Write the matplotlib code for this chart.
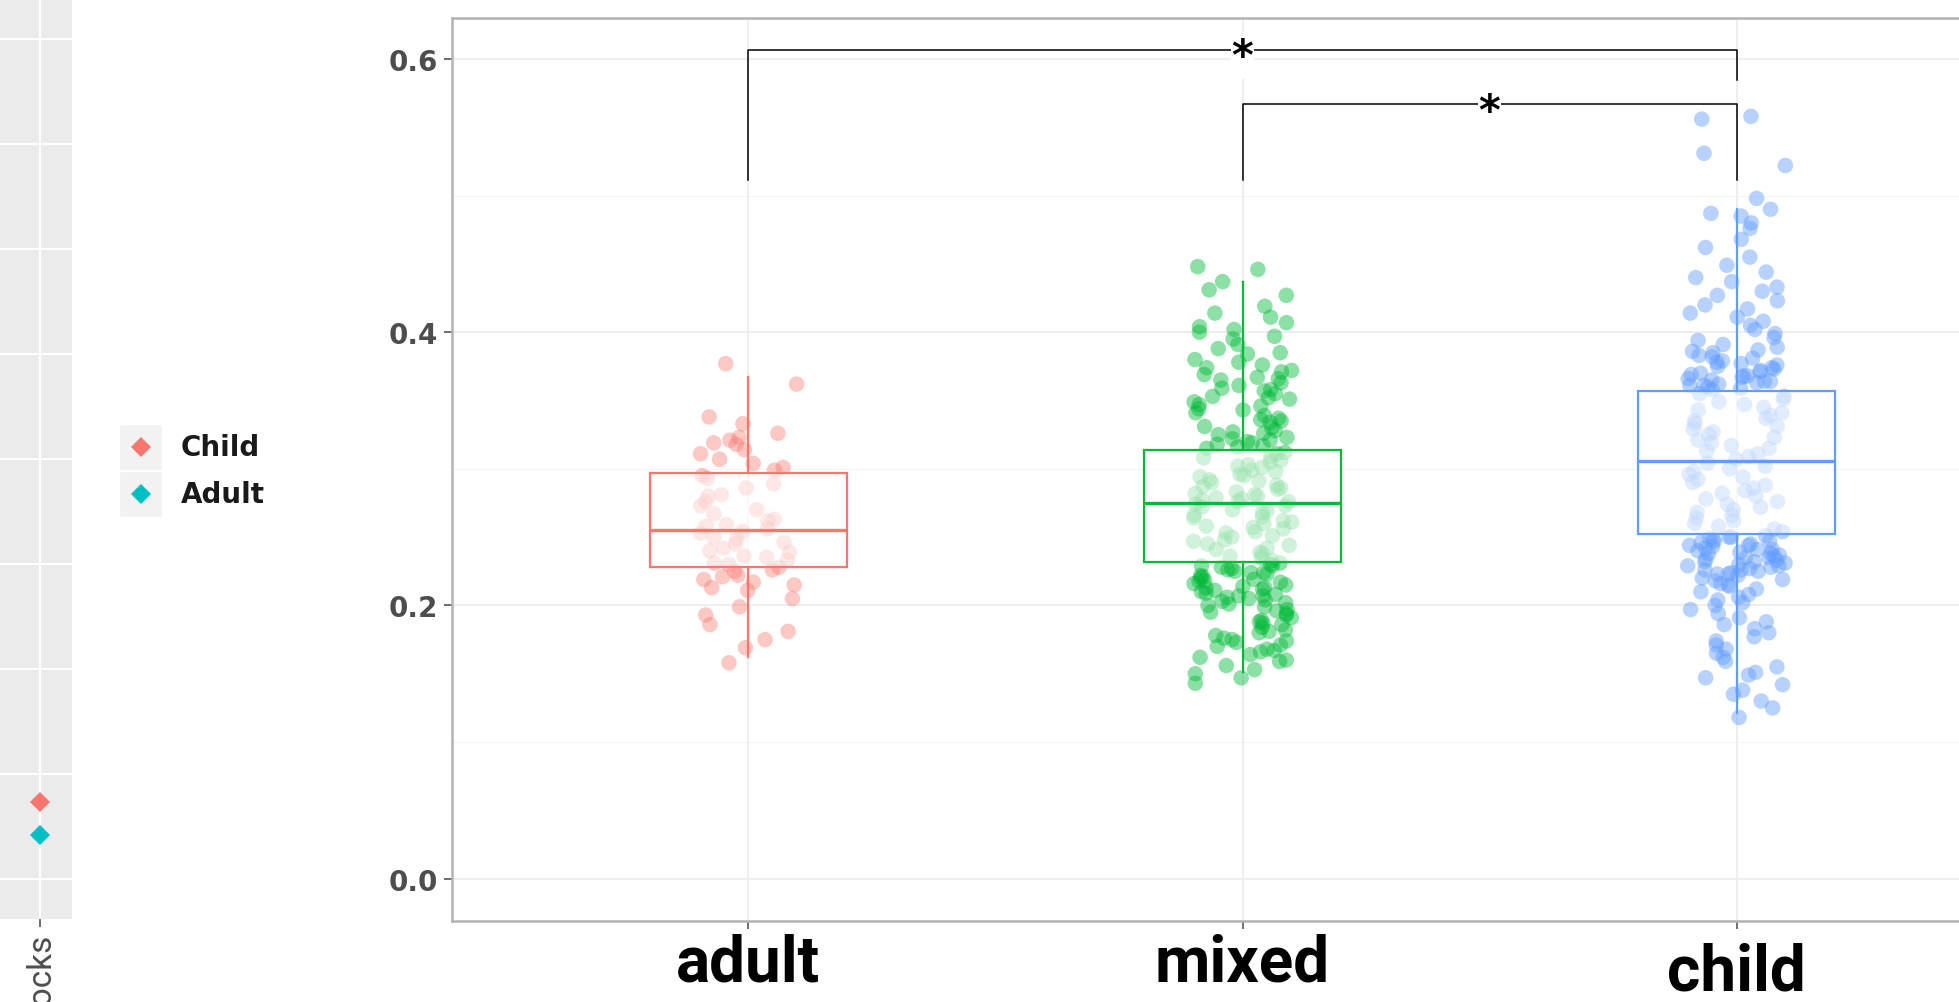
import matplotlib
matplotlib.use("Agg")
import matplotlib.pyplot as plt
import numpy as np
from matplotlib.patches import Rectangle
from matplotlib.transforms import ScaledTranslation

# groups on the main panel
groups = ['adult', 'mixed', 'child']
colors = ['#F8766D', '#00BA38', '#619CFF']

# box statistics
box_q1 = [0.228, 0.232, 0.252]
box_med = [0.255, 0.275, 0.306]
box_q3 = [0.297, 0.314, 0.357]
whisk_lo = [0.162, 0.151, 0.121]
whisk_hi = [0.367, 0.437, 0.490]

# jittered observations (thousandths)
adult_vals = [377, 362, 338, 333, 326, 323, 321, 319, 318, 314, 311, 307, 304, 301, 299,
              295, 293, 289, 286, 281, 280, 276, 273, 270, 267, 263, 262, 259, 258, 256,
              254, 253, 250, 249, 246, 245, 242, 240, 239, 236, 235, 233, 231, 230, 228,
              226, 225, 222, 221, 219, 217, 215, 213, 211, 205, 199, 193, 186, 181, 175,
              169, 158]
mixed_vals = [448, 446, 437, 431, 427, 419, 414, 411, 407, 404, 402, 400, 397, 395, 391,
              388, 385, 384, 380, 378, 376, 374, 371, 369, 367, 365, 363, 361, 359, 357,
              355, 353, 351, 349, 347, 346, 343, 341, 339, 337, 335, 334, 331, 330, 328,
              326, 325, 323, 322, 320, 319, 318, 317, 316, 315,
              312, 311, 309, 308, 306, 305, 303, 302, 301, 299, 298, 296, 295, 294, 292,
              291, 290, 288, 287, 286, 285, 283, 282, 281, 280, 279, 278, 277, 276, 276,
              274, 273, 272, 270, 269, 268, 266, 265, 264, 262, 261, 260, 258, 257, 256,
              254, 253, 251, 250, 248, 247, 245, 244, 242, 241, 239, 238, 236, 235, 233,
              231, 230, 229, 228, 227, 226, 225, 224, 223, 222, 221, 220, 219, 218, 217,
              216, 215, 214, 213, 212, 211, 210, 209, 208, 207, 206, 205, 204, 203, 202,
              200, 199, 197, 196, 194, 193, 191, 189, 187, 186, 184, 182, 180, 178, 176,
              175, 173, 171, 170, 168, 166, 164, 162, 159, 156, 153, 150, 147, 143,
              372, 366, 358, 352, 344, 336, 327, 321, 229, 224, 218, 213, 207, 201, 195,
              188, 181, 174, 167, 160]
child_vals = [558, 556, 531, 522, 498, 490, 487, 485, 480, 476, 468, 462, 455, 449, 444,
              440, 437, 433, 430, 427, 423, 420, 417, 414, 411, 408, 405, 402, 399, 396,
              394, 391, 389, 387, 385, 383, 381, 379, 377, 376, 374, 373, 371, 370, 369,
              368, 367, 366, 365, 364, 363, 362, 361, 360, 359, 358,
              355, 353, 351, 349, 347, 345, 343, 341, 339, 337, 335, 333, 331, 329, 327,
              325, 323, 321, 319, 317, 315, 313, 311, 309, 307,
              304, 302, 300, 298, 296, 294, 292, 290, 288, 286, 284, 282, 280, 278, 276,
              274, 272, 270, 268, 266, 264, 262, 260, 258, 256, 254,
              251, 250, 249, 248, 247, 246, 245, 244, 243, 242, 241, 240, 239, 238, 237,
              236, 235, 234, 233, 232, 231, 230, 229, 228, 227, 226, 225, 224, 223, 222,
              220, 218, 216, 214, 212, 210, 208, 206, 204, 202, 200, 197, 194, 191, 188,
              186, 183, 180, 177, 174, 171, 168, 165, 162, 159, 155, 151, 149, 147, 142,
              138, 135, 130, 125, 118,
              386, 382, 378, 375, 372, 368, 364, 361, 250, 247, 244, 241, 238, 235, 232,
              229, 226, 223, 219, 215]

# significance brackets
sig_pairs = [(0, 2), (1, 2)]
sig_y = [0.6066, 0.567]
sig_tip_left = [0.5115, 0.5115]
sig_tip_right = [0.5846, 0.5115]
sig_text = ['*', '*']

# cropped neighbour panel on the left
side_category = ['Blocks']
side_child = [0.73]
side_adult = [0.42]
legend_labels = ['Child', 'Adult']
legend_colors = ['#F8766D', '#00BFC4']

W, H = 1959, 1003
fig = plt.figure(figsize=(W / 100, H / 100), dpi=100)
fig.patch.set_facecolor('white')


def jitter(n, seed, width=0.1):
    # deterministic hash-style jitter for the point positions
    i = np.arange(n) + seed * 1000
    h = np.sin(i * 12.9898 + 78.233) * 43758.5453
    return ((h - np.floor(h)) * 2 - 1) * width


# ---- main panel ----
ax = fig.add_axes([452 / W, (H - 922) / H, (2033 - 452) / W, (922 - 19) / H])
ax.set_xlim(0.4, 3.6)
ax.set_ylim(-0.031, 0.630)

for y in [0.0, 0.2, 0.4, 0.6]:
    ax.axhline(y, color='#EBEBEB', lw=1.2, zorder=0)
for y in [0.1, 0.3, 0.5]:
    ax.axhline(y, color='#F4F4F4', lw=0.8, zorder=0)
for x in [1, 2, 3]:
    ax.axvline(x, color='#EBEBEB', lw=1.2, zorder=0)

all_vals = [adult_vals, mixed_vals, child_vals]
alphas = [0.4, 0.45, 0.45]
for i, vals in enumerate(all_vals):
    v = np.array(vals) / 1000.0
    ax.scatter(i + 1 + jitter(len(v), i + 1), v, s=125, color=colors[i], alpha=alphas[i],
               edgecolors='none', zorder=2)

stats = []
for i in range(3):
    stats.append(dict(med=box_med[i], q1=box_q1[i], q3=box_q3[i],
                      whislo=whisk_lo[i], whishi=whisk_hi[i], fliers=[]))
bp = ax.bxp(stats, positions=[1, 2, 3], widths=0.4, showcaps=False,
            patch_artist=True, manage_ticks=False, zorder=3)
for i in range(3):
    bp['boxes'][i].set_facecolor((1, 1, 1, 0.6))
    bp['boxes'][i].set_edgecolor(colors[i])
    bp['boxes'][i].set_linewidth(1.6)
    bp['medians'][i].set_color(colors[i])
    bp['medians'][i].set_linewidth(2.4)
    for w in bp['whiskers'][2 * i:2 * i + 2]:
        w.set_color(colors[i])
        w.set_linewidth(1.6)

for k, (a, b) in enumerate(sig_pairs):
    xa, xb = a + 1, b + 1
    ax.plot([xa, xa, xb, xb], [sig_tip_left[k], sig_y[k], sig_y[k], sig_tip_right[k]],
            color='black', lw=1.1, zorder=4)
    ax.annotate(sig_text[k], xy=((xa + xb) / 2, sig_y[k]), xytext=(0, -14),
                textcoords='offset points', ha='center', va='baseline', fontsize=30,
                fontweight='bold', color='black', zorder=5,
                bbox=dict(facecolor='white', edgecolor='none', pad=0.5))

for s in ax.spines.values():
    s.set_color('#B3B3B3')
    s.set_linewidth(1.8)

ax.set_yticks([0.0, 0.2, 0.4, 0.6])
ax.set_yticklabels(['0.0', '0.2', '0.4', '0.6'])
ax.tick_params(axis='y', length=6, width=1.2, color='#555555', pad=4,
               labelsize=20, labelcolor='#4D4D4D')
for lab in ax.get_yticklabels():
    lab.set_fontweight('bold')
    lab.set_family('DejaVu Sans')

ax.set_xticks([1, 2, 3])
ax.set_xticklabels(groups)
ax.tick_params(axis='x', length=6, width=1.2, color='#555555', pad=2)
for lab in ax.get_xticklabels():
    lab.set_fontsize(46)
    lab.set_fontweight('bold')
    lab.set_family('Roboto')
    lab.set_color('black')
child_lab = ax.get_xticklabels()[2]
child_lab.set_transform(child_lab.get_transform() +
                        ScaledTranslation(0, -7 / 72, fig.dpi_scale_trans))

# ---- cropped left panel ----
lax = fig.add_axes([0, (H - 920) / H, 72 / W, 920 / H])
lax.set_facecolor('#EBEBEB')
lax.set_xlim(0.444, 1.444)
lax.set_ylim(-0.381, 8.381)
for y in range(9):
    lax.axhline(y, color='white', lw=1.5, zorder=0)
lax.axvline(1, color='white', lw=1.5, zorder=0)
lax.plot([1] * len(side_child), side_child, 'D', color=legend_colors[0], ms=10, mew=0, zorder=3)
lax.plot([1] * len(side_adult), side_adult, 'D', color=legend_colors[1], ms=10, mew=0, zorder=3)
for s in lax.spines.values():
    s.set_visible(False)
lax.set_yticks([])
lax.set_xticks([1])
lax.set_xticklabels(side_category, rotation=90, fontsize=24, color='#4D4D4D', family='Roboto')
lax.tick_params(axis='x', length=6, width=1.2, color='#555555', pad=3)

# ---- legend ----
gax = fig.add_axes([110 / W, (H - 525) / H, 200 / W, 105 / H])
gax.set_xlim(0, 200)
gax.set_ylim(105, 0)
gax.axis('off')
for i, lab in enumerate(legend_labels):
    yc = 28 + 47 * i
    gax.add_patch(Rectangle((9, yc - 23), 43, 46, facecolor='#F2F2F2', edgecolor='white', lw=1))
    gax.plot([31], [yc], 'D', color=legend_colors[i], ms=10, mew=0)
    gax.text(71, yc, lab, fontsize=20, fontweight='bold', family='DejaVu Sans',
             color='#1A1A1A', va='center', ha='left')

fig.savefig('out.png', dpi=100, facecolor='white')
